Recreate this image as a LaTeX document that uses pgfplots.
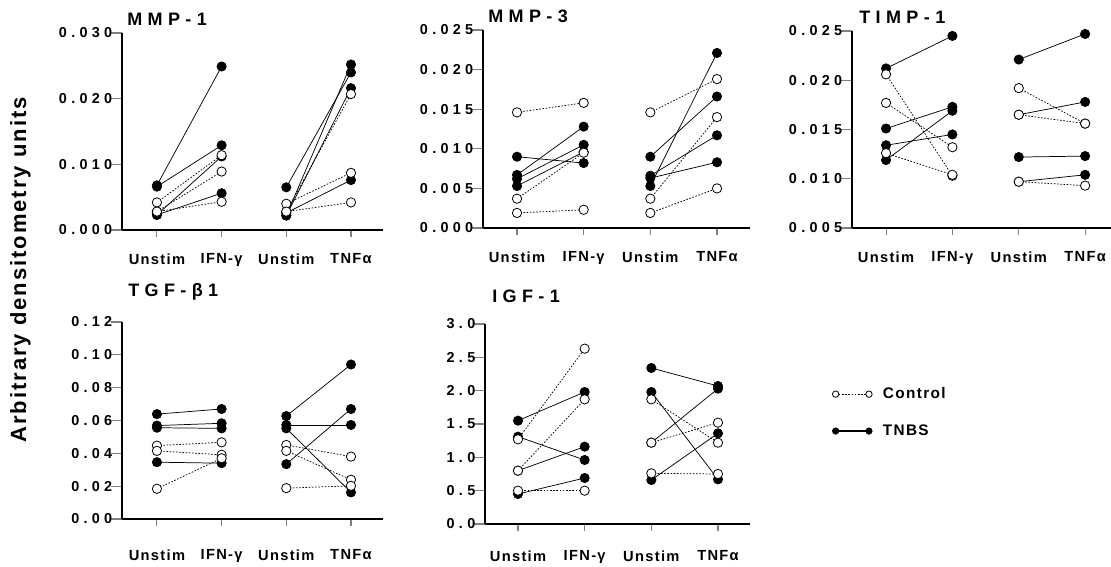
\documentclass[border=0pt]{standalone}
\usepackage{fontspec}
\setmainfont{Liberation Sans}
\newfontfamily\tickfont[LetterSpace=30]{Liberation Sans Bold}
\newfontfamily\titlefont[LetterSpace=30]{Liberation Sans Bold}
\newfontfamily\labfont[LetterSpace=9]{Liberation Sans Bold}
\usepackage{pgfplots}
\pgfplotsset{compat=1.18}
\pgfplotsset{
  panel/.style={
    scale only axis, anchor=south west,
    axis lines*=left, axis line style={line width=1.4pt},
    tick align=outside,
    scaled y ticks=false,
    xtick={1,2,3,4},
    xticklabels={Unstim,IFN-γ,Unstim,TNFα},
    xtick style={line width=0.8pt,/pgfplots/major tick length=5pt},
    ytick style={line width=0.8pt,/pgfplots/major tick length=8pt},
    x tick label style={font=\fontsize{11}{12}\selectfont\labfont, yshift=-10pt},
    y tick label style={font=\fontsize{10.8}{12}\selectfont\tickfont, xshift=0.5pt},
    clip=false,
  },
  T/.style={black, line width=0.55pt, mark=*, mark size=3.5pt, mark options={solid, fill=black, line width=0.5pt}},
  C/.style={black, line width=0.55pt, dash pattern=on 1.2pt off 1.2pt, mark=*, mark size=3.5pt, mark options={solid, fill=white, line width=0.6pt}},
}
\begin{document}
\begin{tikzpicture}[x=0.75pt,y=0.75pt]
\useasboundingbox (0,0) rectangle (1111,567);

% MMP-1
\begin{axis}[panel, at={(91.5pt,252.75pt)}, width=195.75pt, height=147.75pt,
  xmin=0.46, xmax=4.495, ymin=0, ymax=0.030,
  ytick={0,0.01,0.02,0.03}, yticklabels={0.000,0.010,0.020,0.030}]
\addplot[T] coordinates {(1,0.0068) (2,0.0249)};
\addplot[T] coordinates {(1,0.0066) (2,0.0129)};
\addplot[T] coordinates {(1,0.0023) (2,0.0112)};
\addplot[T] coordinates {(1,0.0023) (2,0.0056)};
\addplot[T] coordinates {(3,0.0065) (4,0.0240)};
\addplot[T] coordinates {(3,0.0022) (4,0.0252)};
\addplot[T] coordinates {(3,0.0022) (4,0.0216)};
\addplot[T] coordinates {(3,0.0026) (4,0.0076)};
\addplot[C] coordinates {(1,0.0042) (2,0.0114)};
\addplot[C] coordinates {(1,0.0028) (2,0.0089)};
\addplot[C] coordinates {(1,0.0028) (2,0.0043)};
\addplot[C] coordinates {(3,0.0028) (4,0.0207)};
\addplot[C] coordinates {(3,0.0040) (4,0.0087)};
\addplot[C] coordinates {(3,0.0028) (4,0.0042)};
\end{axis}

% MMP-3
\begin{axis}[panel, at={(362.25pt,254.25pt)}, width=200.25pt, height=148.5pt,
  xmin=0.49, xmax=4.495, ymin=0, ymax=0.025,
  ytick={0,0.005,0.01,0.015,0.02,0.025}, yticklabels={0.000,0.005,0.010,0.015,0.020,0.025}]
\addplot[T] coordinates {(1,0.0090) (2,0.0082)};
\addplot[T] coordinates {(1,0.0067) (2,0.0128)};
\addplot[T] coordinates {(1,0.0062) (2,0.0105)};
\addplot[T] coordinates {(1,0.0053) (2,0.0096)};
\addplot[T] coordinates {(3,0.0090) (4,0.0166)};
\addplot[T] coordinates {(3,0.0053) (4,0.0221)};
\addplot[T] coordinates {(3,0.0066) (4,0.0117)};
\addplot[T] coordinates {(3,0.0063) (4,0.0083)};
\addplot[C] coordinates {(1,0.0146) (2,0.0158)};
\addplot[C] coordinates {(1,0.0037) (2,0.0095)};
\addplot[C] coordinates {(1,0.0019) (2,0.0023)};
\addplot[C] coordinates {(3,0.0146) (4,0.0188)};
\addplot[C] coordinates {(3,0.0037) (4,0.0140)};
\addplot[C] coordinates {(3,0.0019) (4,0.0050)};
\end{axis}

% TIMP-1
\begin{axis}[panel, at={(639pt,254.25pt)}, width=194.25pt, height=147.75pt,
  xmin=0.487, xmax=4.39, ymin=0.005, ymax=0.025,
  ytick={0.005,0.01,0.015,0.02,0.025}, yticklabels={0.005,0.010,0.015,0.020,0.025}]
\addplot[T] coordinates {(1,0.0212) (2,0.0245)};
\addplot[T] coordinates {(1,0.0151) (2,0.0173)};
\addplot[T] coordinates {(1,0.0134) (2,0.0145)};
\addplot[T] coordinates {(1,0.0119) (2,0.0169)};
\addplot[T] coordinates {(3,0.0221) (4,0.0247)};
\addplot[T] coordinates {(3,0.0165) (4,0.0178)};
\addplot[T] coordinates {(3,0.0122) (4,0.0123)};
\addplot[T] coordinates {(3,0.0097) (4,0.0104)};
\addplot[C] coordinates {(1,0.0206) (2,0.0103)};
\addplot[C] coordinates {(1,0.0177) (2,0.0132)};
\addplot[C] coordinates {(1,0.0126) (2,0.0104)};
\addplot[C] coordinates {(3,0.0192) (4,0.0156)};
\addplot[C] coordinates {(3,0.0165) (4,0.0156)};
\addplot[C] coordinates {(3,0.0097) (4,0.0093)};
\end{axis}

% TGF-b1
\begin{axis}[panel, at={(91.5pt,36pt)}, width=195.75pt, height=147.75pt,
  xmin=0.46, xmax=4.495, ymin=0, ymax=0.12,
  x tick label style={yshift=-5pt},
  ytick={0,0.02,0.04,0.06,0.08,0.1,0.12}, yticklabels={0.00,0.02,0.04,0.06,0.08,0.10,0.12}]
\addplot[T] coordinates {(1,0.0639) (2,0.0670)};
\addplot[T] coordinates {(1,0.0569) (2,0.0583)};
\addplot[T] coordinates {(1,0.0556) (2,0.0552)};
\addplot[T] coordinates {(1,0.0346) (2,0.0340)};
\addplot[T] coordinates {(3,0.0627) (4,0.0941)};
\addplot[T] coordinates {(3,0.0573) (4,0.0573)};
\addplot[T] coordinates {(3,0.0552) (4,0.0162)};
\addplot[T] coordinates {(3,0.0334) (4,0.0670)};
\addplot[C] coordinates {(1,0.0447) (2,0.0467)};
\addplot[C] coordinates {(1,0.0415) (2,0.0391)};
\addplot[C] coordinates {(1,0.0184) (2,0.0370)};
\addplot[C] coordinates {(3,0.0451) (4,0.0380)};
\addplot[C] coordinates {(3,0.0415) (4,0.0239)};
\addplot[C] coordinates {(3,0.0188) (4,0.0202)};
\end{axis}

% IGF-1
\begin{axis}[panel, at={(363.75pt,32.25pt)}, width=198.75pt, height=150pt,
  xmin=0.505, xmax=4.48, ymin=0, ymax=3,
  x tick label style={yshift=-2pt},
  ytick={0,0.5,1,1.5,2,2.5,3}, yticklabels={0.0,0.5,1.0,1.5,2.0,2.5,3.0},
  legend style={draw=none, fill=none, at={(axis description cs:1.295,0.5575)}, anchor=west,
    font=\fontsize{11.5}{12}\selectfont\labfont, row sep=14pt,
    /tikz/every odd column/.append style={column sep=6pt}},
  legend cell align=left,
  legend image code/.code={\draw[#1, mark size=2.4pt] plot coordinates {(0pt,0pt) (25pt,0pt)};}]
\addlegendimage{C, line width=0.9pt}
\addlegendentry{Control}
\addlegendimage{T, line width=1.3pt}
\addlegendentry{TNBS}
\addplot[T] coordinates {(1,1.55) (2,1.98)};
\addplot[T] coordinates {(1,1.31) (2,0.96)};
\addplot[T] coordinates {(1,0.80) (2,1.16)};
\addplot[T] coordinates {(1,0.45) (2,0.69)};
\addplot[T] coordinates {(3,2.34) (4,2.07)};
\addplot[T] coordinates {(3,1.98) (4,0.67)};
\addplot[T] coordinates {(3,1.22) (4,2.03)};
\addplot[T] coordinates {(3,0.66) (4,1.36)};
\addplot[C] coordinates {(1,1.27) (2,2.63)};
\addplot[C] coordinates {(1,0.80) (2,1.87)};
\addplot[C] coordinates {(1,0.50) (2,0.50)};
\addplot[C] coordinates {(3,1.87) (4,1.22)};
\addplot[C] coordinates {(3,1.22) (4,1.52)};
\addplot[C] coordinates {(3,0.76) (4,0.75)};
\end{axis}

\begin{scope}[every node/.style={inner sep=0pt, anchor=base west, font=\fontsize{13.5}{14}\selectfont\titlefont}]
\node at (127,541) {MMP-1};
\node at (488,544) {MMP-3};
\node at (859,543) {TIMP-1};
\node at (128,270) {TGF-β1};
\node at (492,264) {IGF-1};
\end{scope}
\node[rotate=90, inner sep=0pt, font=\fontsize{16.5}{17}\selectfont\labfont] at (20.5,297) {Arbitrary densitometry units};
\end{tikzpicture}
\end{document}
